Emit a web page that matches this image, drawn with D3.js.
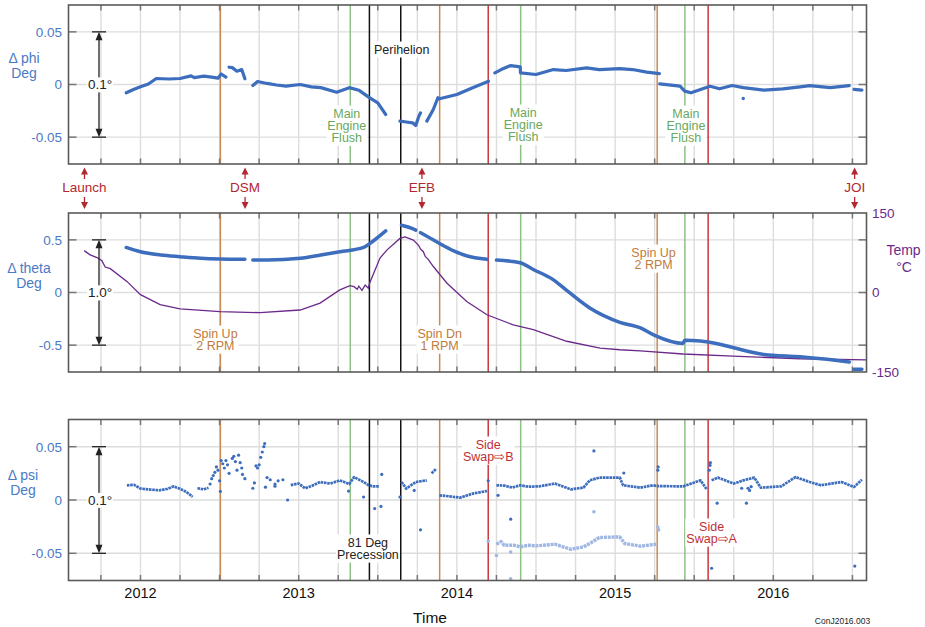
<!DOCTYPE html>
<html><head><meta charset="utf-8">
<script src="https://cdn.jsdelivr.net/npm/d3@7"></script>
<style>body{margin:0;background:#fff} svg{display:block;font-family:"Liberation Sans",Arial,Helvetica,sans-serif}</style>
</head><body><svg id="c" width="925" height="627"></svg>
<script>
// ---------------- DATA ----------------
const yearTicks = [2012, 2013, 2014, 2015, 2016];
const quarterTicks = [2011.75,2012,2012.25,2012.5,2012.75,2013,2013.25,2013.5,2013.75,2014,2014.25,2014.5,2014.75,2015,2015.25,2015.5,2015.75,2016,2016.25,2016.5];
const smallTicks = [-0.05, 0, 0.05];
const thetaTicks = [-0.5, 0, 0.5];
const tempTicks = [-150, 0, 150];

const eventYears = [2012.505, 2013.326, 2013.447, 2013.645, 2013.891, 2014.198, 2014.403, 2015.266, 2015.441, 2015.588];
const eventKinds = ['spin','flush','black','black','spin','swap','flush','spin','flush','swap'];

const milestoneNames = ['Launch','DSM','EFB','JOI'];
const milestoneYears = [2011.646, 2012.661, 2013.779, 2016.514];

// annotation: [panel, event index, text lines]
const annotations = [
  [0, 3, ['Perihelion']],
  [0, 1, ['Main','Engine','Flush']],
  [0, 6, ['Main','Engine','Flush']],
  [0, 8, ['Main','Engine','Flush']],
  [1, 0, ['Spin Up','2 RPM']],
  [1, 4, ['Spin Dn','1 RPM']],
  [1, 7, ['Spin Up','2 RPM']],
  [2, 5, ['Side','Swap\u21E8B']],
  [2, 2, ['81 Deg','Precession']],
  [2, 9, ['Side','Swap\u21E8A']]
];

// Δ phi (deg) ; null = gap
const phiData = [
 [2011.91,-0.0079],[2011.96,-0.0045],[2012.00,-0.0022],[2012.05,0.0005],[2012.10,0.0057],[2012.18,0.0052],[2012.25,0.0057],[2012.32,0.0082],[2012.34,0.0066],[2012.40,0.0079],[2012.45,0.0070],[2012.49,0.0060],[2012.51,0.0100],[2012.54,0.0070],null,
 [2012.56,0.0164],[2012.58,0.0160],[2012.61,0.0126],[2012.64,0.0142],[2012.66,0.0054],null,
 [2012.71,-0.0010],[2012.74,0.0028],[2012.80,0.0010],[2012.86,-0.0005],[2012.92,-0.0016],[2013.01,0.0000],[2013.08,-0.0022],[2013.14,-0.0030],[2013.24,-0.0073],[2013.32,-0.0030],[2013.38,-0.0054],[2013.44,-0.0117],[2013.50,-0.0174],[2013.55,-0.0285],null,
 [2013.64,-0.0348],[2013.68,-0.0356],[2013.72,-0.0364],[2013.74,-0.0390],[2013.76,-0.0300],[2013.77,-0.0269],null,
 [2013.81,-0.0348],[2013.85,-0.0240],[2013.88,-0.0126],[2013.89,-0.0136],[2014.00,-0.0095],[2014.10,-0.0030],[2014.20,0.0031],null,
 [2014.24,0.0110],[2014.28,0.0142],[2014.34,0.0180],[2014.40,0.0168],[2014.402,0.0110],[2014.50,0.0095],[2014.61,0.0142],[2014.69,0.0133],[2014.82,0.0158],[2014.90,0.0142],[2015.03,0.0150],[2015.11,0.0142],[2015.20,0.0117],[2015.28,0.0104],null,
 [2015.282,0.0006],[2015.41,-0.0016],[2015.44,-0.0063],[2015.48,-0.0079],[2015.54,-0.0047],[2015.60,-0.0016],[2015.66,-0.0041],[2015.74,-0.0010],[2015.81,-0.0030],[2015.94,-0.0054],[2016.06,-0.0041],[2016.17,-0.0022],[2016.23,-0.0010],[2016.36,-0.0030],[2016.48,-0.0010],null,
 [2016.51,-0.0047],[2016.56,-0.0054]
];
const phiOutliers = [[2015.81,-0.0133]];

// Δ theta (deg)
const thetaData = [
 [2011.91,0.428],[2012.00,0.387],[2012.13,0.356],[2012.25,0.340],[2012.38,0.325],[2012.50,0.318],[2012.66,0.315],null,
 [2012.71,0.308],[2012.80,0.308],[2013.01,0.325],[2013.14,0.356],[2013.26,0.387],[2013.41,0.428],[2013.45,0.466],[2013.55,0.585],null,
 [2013.65,0.639],[2013.72,0.607],[2013.74,0.592],null,
 [2013.77,0.568],[2013.81,0.535],[2013.89,0.466],[2013.98,0.396],[2014.06,0.349],[2014.19,0.315],null,
 [2014.25,0.308],[2014.40,0.283],[2014.48,0.221],[2014.61,0.120],[2014.69,0.025],[2014.84,-0.147],[2015.03,-0.283],[2015.16,-0.336],[2015.25,-0.408],[2015.43,-0.484],
 [2015.44,-0.453],[2015.64,-0.484],[2015.75,-0.525],[2015.94,-0.588],[2016.17,-0.610],[2016.34,-0.635],[2016.48,-0.660],null,
 [2016.51,-0.729],[2016.56,-0.729]
];

// temperature (°C)
const tempData = [
 [2011.644,79],[2011.682,71],[2011.725,66],[2011.756,60],[2011.777,48],[2011.809,45],[2011.914,21],[2012.0,-4],[2012.124,-23],[2012.25,-31],[2012.503,-36],[2012.756,-38],[2013.009,-33],[2013.135,-20],[2013.26,5],[2013.324,13],[2013.35,11],[2013.37,6],[2013.38,12],[2013.40,4],[2013.42,14],[2013.44,8],[2013.45,19],[2013.514,65],[2013.557,80],[2013.64,102],[2013.672,105],[2013.725,99],[2013.76,88],[2013.77,82],[2013.788,77],[2013.80,68],[2013.82,62],[2013.851,49],[2013.936,18],[2014.062,-17],[2014.19,-42],[2014.356,-61],[2014.483,-70],[2014.694,-92],[2014.905,-105],[2015.03,-108],[2015.16,-110],[2015.43,-116],[2015.746,-120],[2016.167,-125],[2016.589,-127]
];

// Δ psi (deg): dense runs, scattered points, and second (light) series
const psiRuns = [
 [2011.914,0.0138],[2011.96,0.0142],[2012.0,0.0107],[2012.06,0.0098],[2012.12,0.0091],[2012.17,0.0105],[2012.21,0.0128],[2012.25,0.0105],[2012.29,0.0075],[2012.33,0.0030],null,
 [2012.36,0.0110],[2012.40,0.0100],[2012.43,0.0115],null,
 [2012.95,0.0140],[2013.0,0.0155],[2013.04,0.0110],[2013.08,0.0130],[2013.135,0.0169],[2013.2,0.0154],[2013.26,0.0184],[2013.32,0.0150],[2013.35,0.0215],[2013.41,0.0169],[2013.44,0.0140],[2013.47,0.0128],[2013.51,0.0128],null,
 [2013.65,0.0169],[2013.68,0.0107],[2013.74,0.0169],[2013.81,0.0184],null,
 [2013.84,0.0250],[2013.87,0.0294],null,
 [2013.89,0.0044],[2013.95,0.0035],[2014.02,0.0022],[2014.10,0.0060],[2014.19,0.0084],null,
 [2014.25,0.0138],[2014.30,0.0135],[2014.35,0.0116],[2014.40,0.0138],[2014.45,0.0125],[2014.52,0.0128],[2014.62,0.0154],[2014.72,0.0100],[2014.80,0.0116],[2014.84,0.0184],[2014.90,0.0210],[2015.03,0.0210],[2015.05,0.0138],[2015.16,0.0116],[2015.24,0.0138],[2015.27,0.0130],[2015.43,0.0128],[2015.54,0.0184],[2015.58,0.0097],null,
 [2015.61,0.0184],[2015.65,0.0210],[2015.75,0.0154],[2015.81,0.0184],[2015.88,0.0210],[2015.92,0.0116],[2016.05,0.0128],[2016.14,0.0215],[2016.23,0.0169],[2016.30,0.0138],[2016.43,0.0169],[2016.51,0.0122],[2016.56,0.0191]
];
const psiScatter = [
 [2012.44,0.015],[2012.45,0.020],[2012.46,0.023],[2012.47,0.026],[2012.48,0.031],[2012.49,0.028],[2012.50,0.018],[2012.505,0.008],[2012.51,0.037],[2012.52,0.034],[2012.53,0.030],[2012.54,0.037],[2012.55,0.033],[2012.56,0.025],[2012.58,0.039],[2012.59,0.041],[2012.60,0.036],[2012.61,0.028],[2012.62,0.042],[2012.63,0.035],[2012.64,0.030],[2012.645,0.024],[2012.66,0.020],[2012.71,0.011],[2012.72,0.016],[2012.73,0.032],[2012.74,0.030],[2012.75,0.033],[2012.76,0.040],[2012.77,0.045],[2012.78,0.050],[2012.785,0.053],[2012.79,0.012],[2012.80,0.021],[2012.82,0.019],[2012.85,0.015],[2012.87,0.018],[2012.90,0.019],[2012.93,0.000],[2012.85,0.013],
 [2013.315,0.0084],[2013.41,0.0028],[2013.525,0.024],[2013.48,-0.008],[2013.52,-0.006],[2013.64,0.0028],[2013.73,0.009],[2013.77,-0.028],
 [2014.198,0.018],[2014.26,0.0044],[2014.34,-0.018],[2014.866,0.046],[2015.055,0.0253],[2015.27,0.028],[2015.272,0.031],[2015.60,0.0325],[2015.602,0.035],[2015.595,0.028],[2015.645,-0.003],[2015.83,-0.003],[2015.61,-0.064],[2016.515,-0.062],[2015.84,0.011],[2015.85,0.009],[2015.86,0.0125],[2015.80,0.011]
];
const psiB = [
 [2014.25,-0.0415],[2014.28,-0.0390],[2014.30,-0.0425],[2014.36,-0.0424],[2014.40,-0.0440],[2014.45,-0.0425],[2014.50,-0.0430],[2014.62,-0.0415],[2014.72,-0.0462],[2014.80,-0.0440],[2014.84,-0.0408],[2014.90,-0.0352],[2015.03,-0.0346],[2015.06,-0.0408],[2015.16,-0.0433],[2015.26,-0.0415]
];
const psiBScatter = [[2015.27,-0.0253],[2015.275,-0.028],[2014.198,-0.0387],[2014.25,-0.052],[2014.34,-0.0487],[2014.34,-0.074],[2014.866,-0.011]];

// ---------------- DRAW ----------------
const svg = d3.select('#c');
const L = 68.5, R = 866.5;
const x = d3.scaleLinear().domain([2011.545, 2016.589]).range([L, R]);
const panels = [
  {top: 5, bot: 164, y: d3.scaleLinear().domain([-0.0755, 0.0755]).range([164, 5]), ticks: smallTicks},
  {top: 213, bot: 372, y: d3.scaleLinear().domain([-0.755, 0.755]).range([372, 213]), ticks: thetaTicks},
  {top: 419.5, bot: 580.5, y: d3.scaleLinear().domain([-0.0755, 0.0755]).range([580.5, 419.5]), ticks: smallTicks}
];
const yTemp = d3.scaleLinear().domain([-150, 150]).range([372, 213]);

const C = {
  blue: '#3d6dbd', tick: '#4a7ac6', purple: '#6b2a8a', light: '#9fb7e2',
  spin: '#c98b55', flush: '#8cc184', swap: '#c8373d', black: '#111',
  spinT: '#c07b3c', flushT: '#6aa85c', swapT: '#bf2f35', blackT: '#222',
  grid: '#dddddd', frame: '#5a5a5a', red: '#b3282e'
};

panels.forEach((p, i) => {
  const g = svg.append('g');
  g.selectAll('.vg').data(quarterTicks).join('line')
    .attr('x1', d => x(d)).attr('x2', d => x(d)).attr('y1', p.top).attr('y2', p.bot)
    .attr('stroke', C.grid).attr('stroke-width', 1.4);
  g.selectAll('.hg').data(p.ticks).join('line')
    .attr('x1', L).attr('x2', R).attr('y1', d => p.y(d)).attr('y2', d => p.y(d))
    .attr('stroke', C.grid).attr('stroke-width', 1.4);
  g.selectAll('.ev').data(eventYears).join('line')
    .attr('x1', d => x(d)).attr('x2', d => x(d)).attr('y1', p.top).attr('y2', p.bot)
    .attr('stroke', (d, k) => C[eventKinds[k]]).attr('stroke-width', 1.5);
  g.selectAll('.tt').data(quarterTicks).join('line')
    .attr('x1', d => x(d)).attr('x2', d => x(d)).attr('y1', p.top).attr('y2', p.top + 5.5)
    .attr('stroke', '#777').attr('stroke-width', 1.5);
  g.selectAll('.tb').data(quarterTicks).join('line')
    .attr('x1', d => x(d)).attr('x2', d => x(d)).attr('y1', p.bot - 5.5).attr('y2', p.bot)
    .attr('stroke', '#777').attr('stroke-width', 1.5);
  g.selectAll('.tl').data(p.ticks).join('line')
    .attr('x1', L).attr('x2', L + 8).attr('y1', d => p.y(d)).attr('y2', d => p.y(d))
    .attr('stroke', '#777').attr('stroke-width', 1.5);
  g.selectAll('.tr').data(p.ticks).join('line')
    .attr('x1', R - 8).attr('x2', R).attr('y1', d => p.y(d)).attr('y2', d => p.y(d))
    .attr('stroke', '#777').attr('stroke-width', 1.5);
  g.selectAll('.yl').data(p.ticks).join('text')
    .attr('x', 62).attr('y', d => p.y(d)).attr('dy', '0.36em')
    .attr('text-anchor', 'end').attr('font-size', 13.5).attr('fill', C.tick)
    .text(d => d === 0 ? '0' : d3.format('.2~f')(d).replace('\u2212', '-'));
});

// data lines
const mkLine = (p) => d3.line().defined(d => d !== null).x(d => x(d[0])).y(d => p.y(d[1]));
svg.append('path').datum(phiData).attr('d', mkLine(panels[0]))
  .attr('fill', 'none').attr('stroke', C.blue).attr('stroke-width', 3.2)
  .attr('stroke-linecap', 'round').attr('stroke-linejoin', 'round');
svg.selectAll('.po').data(phiOutliers).join('circle')
  .attr('cx', d => x(d[0])).attr('cy', d => panels[0].y(d[1])).attr('r', 1.7).attr('fill', C.blue);

svg.append('path').datum(tempData)
  .attr('d', d3.line().x(d => x(d[0])).y(d => yTemp(d[1])))
  .attr('fill', 'none').attr('stroke', C.purple).attr('stroke-width', 1.3);
svg.append('path').datum(thetaData).attr('d', mkLine(panels[1]).curve(d3.curveMonotoneX))
  .attr('fill', 'none').attr('stroke', C.blue).attr('stroke-width', 3.5)
  .attr('stroke-linecap', 'round').attr('stroke-linejoin', 'round');

svg.append('path').datum(psiB).attr('d', mkLine(panels[2]))
  .attr('fill', 'none').attr('stroke', C.light).attr('stroke-width', 3.4)
  .attr('stroke-dasharray', '3,0.8')
  .attr('stroke-linejoin', 'round');
svg.selectAll('.pbs').data(psiBScatter).join('circle')
  .attr('cx', d => x(d[0])).attr('cy', d => panels[2].y(d[1])).attr('r', 1.8).attr('fill', C.light);
svg.append('path').datum(psiRuns).attr('d', mkLine(panels[2]))
  .attr('fill', 'none').attr('stroke', C.blue).attr('stroke-width', 2.7)
  .attr('stroke-dasharray', '2.6,0.7')
  .attr('stroke-linejoin', 'round');
svg.selectAll('.ps').data(psiScatter).join('circle')
  .attr('cx', d => x(d[0])).attr('cy', d => panels[2].y(d[1])).attr('r', 1.6).attr('fill', C.blue);

// annotations with white background
const annoY = {0: {3: 49, 1: 113, 6: 112, 8: 113}, 1: {0: 333, 4: 333, 7: 252}, 2: {5: 444, 2: 542, 9: 526}};
const annoDx = {3: 1, 1: -3.5, 6: 2.6, 8: 1, 0: -5, 4: 0, 7: -3.6, 5: 0, 2: -1.5, 9: 3.5};
annotations.forEach(([pi, ei, lines]) => {
  const kind = eventKinds[ei];
  const cx = x(eventYears[ei]) + annoDx[ei];
  const cy = annoY[pi][ei];
  const g = svg.append('g');
  const t = g.append('text').attr('text-anchor', 'middle').attr('font-size', 12.5)
    .attr('fill', C[kind + 'T']);
  lines.forEach((s, j) => t.append('tspan').attr('x', cx).attr('y', cy + j * 12.2).attr('dy', '0.36em').text(s));
  const bb = t.node().getBBox();
  g.insert('rect', 'text').attr('x', bb.x - 1).attr('y', bb.y - 1).attr('width', bb.width + 2).attr('height', bb.height + 2).attr('fill', '#fff');
});

// measurement arrows
function measure(p, v, label) {
  const ax = 99, y1 = p.y(v), y2 = p.y(-v);
  const g = svg.append('g').attr('stroke', '#222').attr('fill', '#222');
  g.append('line').attr('x1', ax).attr('x2', ax).attr('y1', y1 + 4).attr('y2', y2 - 4).attr('stroke-width', 1.3);
  [y1, y2].forEach(yy => g.append('line').attr('x1', ax - 7).attr('x2', ax + 7).attr('y1', yy).attr('y2', yy).attr('stroke-width', 1.3));
  g.append('path').attr('d', `M${ax},${y1}l-3.5,8.5h7z`).attr('stroke', 'none');
  g.append('path').attr('d', `M${ax},${y2}l-3.5,-8.5h7z`).attr('stroke', 'none');
  const ym = p.y(0);
  const t = svg.append('text').attr('x', ax + 1).attr('y', ym).attr('dy', '0.36em').attr('text-anchor', 'middle')
    .attr('font-size', 13.5).attr('fill', '#222').text(label);
  const bb = t.node().getBBox();
  svg.insert('rect', () => t.node()).attr('x', bb.x - 1).attr('y', bb.y).attr('width', bb.width + 2).attr('height', bb.height).attr('fill', '#fff');
}
measure(panels[0], 0.05, '0.1\u00B0');
measure(panels[1], 0.5, '1.0\u00B0');
measure(panels[2], 0.05, '0.1\u00B0');

// frames
panels.forEach(p => svg.append('rect').attr('x', L).attr('y', p.top).attr('width', R - L).attr('height', p.bot - p.top)
  .attr('fill', 'none').attr('stroke', C.frame).attr('stroke-width', 1.6));

// milestone arrows between panel 1 and 2
milestoneYears.forEach((yv, k) => {
  const mx = x(yv);
  const g = svg.append('g').attr('fill', C.red).attr('stroke', C.red);
  g.append('line').attr('x1', mx).attr('x2', mx).attr('y1', 172).attr('y2', 179).attr('stroke-width', 1.3);
  g.append('path').attr('d', `M${mx},167.5l-3.5,7h7z`).attr('stroke', 'none');
  g.append('line').attr('x1', mx).attr('x2', mx).attr('y1', 197).attr('y2', 204).attr('stroke-width', 1.3);
  g.append('path').attr('d', `M${mx},209l-3.5,-7h7z`).attr('stroke', 'none');
  g.append('text').attr('x', mx).attr('y', 191.5).attr('text-anchor', 'middle').attr('font-size', 13.5)
    .attr('stroke', 'none').text(milestoneNames[k]);
});

// axis titles
const ylab = (lines, cx, ys) => {
  lines.forEach((s, j) => svg.append('text').attr('x', cx).attr('y', ys[j]).attr('text-anchor', 'middle')
    .attr('font-size', 14).attr('fill', C.tick).text(s));
};
ylab(['\u0394 phi', 'Deg'], 24, [63, 78]);
ylab(['\u0394 theta', 'Deg'], 29, [273, 288]);
ylab(['\u0394 psi', 'Deg'], 23, [480, 495]);

// right temperature axis
svg.selectAll('.rt').data(tempTicks).join('text')
  .attr('x', 872).attr('y', d => yTemp(d)).attr('dy', '0.36em').attr('font-size', 13.5).attr('fill', C.purple)
  .text(d => d3.format('d')(d).replace('\u2212', '-'));
svg.append('text').attr('x', 903.5).attr('y', 255).attr('text-anchor', 'middle').attr('font-size', 14).attr('fill', C.purple).text('Temp');
svg.append('text').attr('x', 904).attr('y', 271.5).attr('text-anchor', 'middle').attr('font-size', 14).attr('fill', C.purple).text('\u00B0C');

// x axis
svg.selectAll('.xl').data(yearTicks).join('text')
  .attr('x', d => x(d)).attr('y', 598).attr('text-anchor', 'middle').attr('font-size', 14.5).attr('fill', '#111').text(d => d);
svg.append('text').attr('x', 430).attr('y', 622.5).attr('text-anchor', 'middle').attr('font-size', 15.5).attr('fill', '#111').text('Time');
svg.append('text').attr('x', 842.5).attr('y', 624).attr('text-anchor', 'middle').attr('font-size', 8.5).attr('fill', '#222').text('ConJ2016.003');
</script></body></html>
